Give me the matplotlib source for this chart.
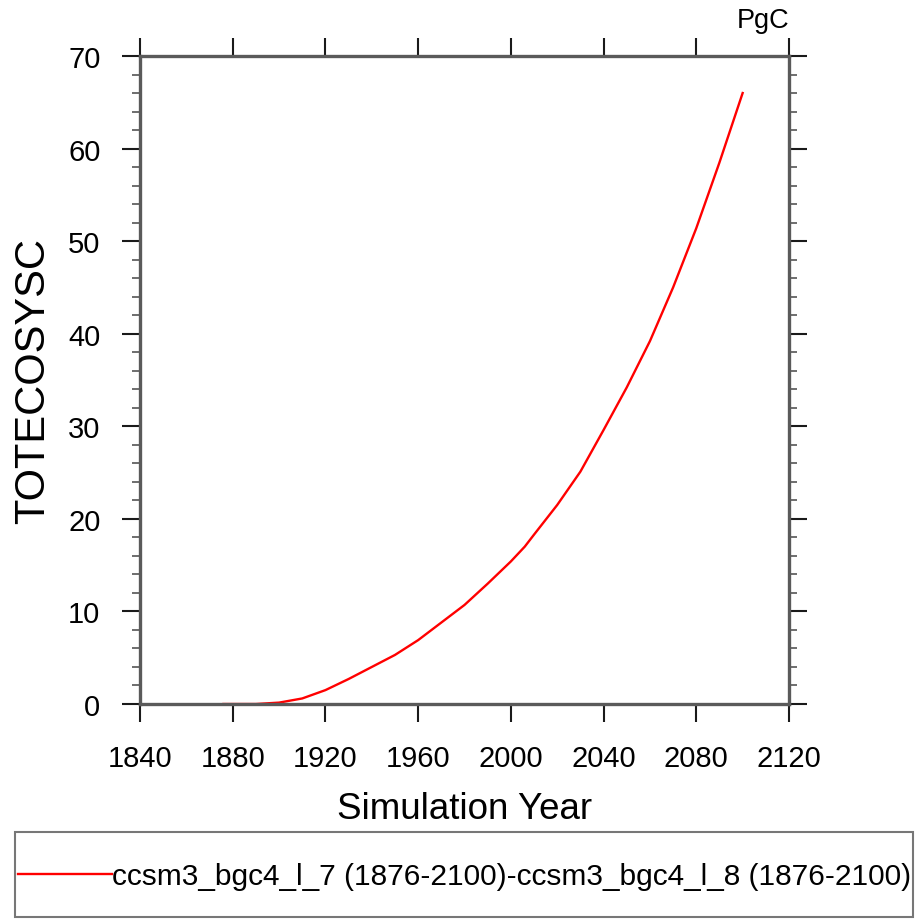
import matplotlib
matplotlib.use("Agg")
import matplotlib.pyplot as plt
from matplotlib.patches import Rectangle
from matplotlib.ticker import MultipleLocator

plt.rcParams['font.family'] = ['Liberation Sans', 'DejaVu Sans']

# difference series (PgC)
years = [1876, 1880, 1890, 1900, 1910, 1920, 1930, 1940, 1950, 1960, 1970,
         1980, 1990, 2000, 2006, 2010, 2020, 2030, 2040, 2050, 2060, 2070,
         2080, 2090, 2100]
totecosysc = [0.0, 0.0, 0.0, 0.15, 0.6, 1.5, 2.7, 4.0, 5.3, 6.9, 8.8,
              10.7, 13.0, 15.4, 17.0, 18.3, 21.5, 25.1, 29.6, 34.2, 39.2, 45.0,
              51.4, 58.5, 66.0]
series_label = "ccsm3_bgc4_l_7 (1876-2100)-ccsm3_bgc4_l_8 (1876-2100)"
x_ticks = [1840, 1880, 1920, 1960, 2000, 2040, 2080, 2120]
y_ticks = [0, 10, 20, 30, 40, 50, 60, 70]

W, H = 915, 920
fig = plt.figure(figsize=(W / 100, H / 100), dpi=100)
ax = fig.add_axes([140 / W, 1 - 705 / H, (789 - 140) / W, (705 - 57) / H])

line, = ax.plot(years, totecosysc, color='red', lw=1.7, label=series_label)

ax.set_xlim(1840, 2120)
ax.set_ylim(0, 70)
ax.set_xticks(x_ticks)
ax.set_yticks(y_ticks)
ax.yaxis.set_minor_locator(MultipleLocator(2))

for s in ax.spines.values():
    s.set_linewidth(2.4)
    s.set_color('#5a5a5a')

ax.tick_params(which='major', direction='out', length=13, width=1.5, color='#1a1a1a',
               top=True, right=True, labelsize=21, pad=15.5)
ax.tick_params(which='minor', direction='out', length=6, width=1.2, color='#555555',
               left=True, right=True)
ax.tick_params(axis='x', which='minor', bottom=False, top=False)

ax.set_xlabel('Simulation Year', fontsize=26.5, labelpad=14)
ax.set_ylabel('TOTECOSYSC', fontsize=30, labelpad=11)

ax.text(1.0, 1.035, 'PgC', transform=ax.transAxes, ha='right', va='bottom', fontsize=19.5)

# legend box at the bottom, frame drawn separately
fig.patches.append(Rectangle((15 / W, 1 - 918 / H), (913 - 15) / W, (918 - 833) / H,
                             transform=fig.transFigure, fill=False,
                             edgecolor='#777777', lw=1.5))
fig.legend(handles=[line], loc='center left', bbox_to_anchor=(15 / W, 1 - 877 / H),
           fontsize=21.5, frameon=False, handlelength=3.15, handletextpad=0.0,
           borderaxespad=0.0, borderpad=0.1)

fig.savefig('out.png', dpi=100)
